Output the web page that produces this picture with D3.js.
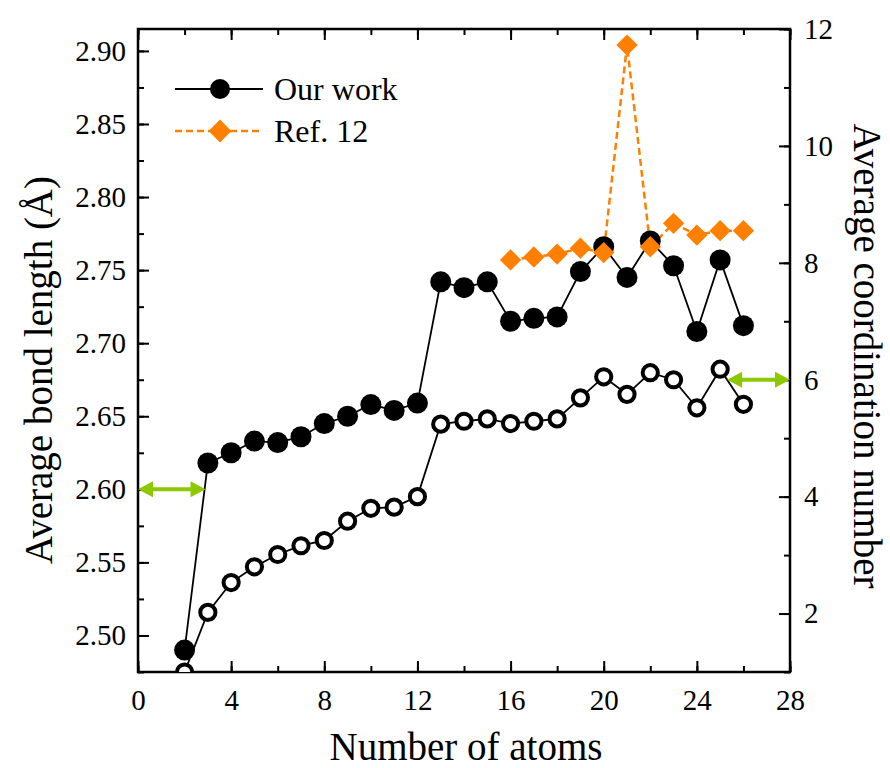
<!DOCTYPE html>
<html>
<head>
<meta charset="utf-8">
<title>Average bond length and coordination number</title>
<script src="https://d3js.org/d3.v7.min.js"></script>
<style>
  body { margin: 0; background: #fff; }
  svg text { font-family: "Liberation Serif", "Times New Roman", serif !important; fill: #000; }
</style>
</head>
<body>
<svg width="890" height="768"></svg>
<script>
// data
var atoms = [2, 3, 4, 5, 6, 7, 8, 9, 10, 11, 12, 13, 14, 15, 16, 17, 18, 19, 20, 21, 22, 23, 24, 25, 26];
var bondLen = [2.490, 2.618, 2.625, 2.633, 2.632, 2.636, 2.645, 2.650, 2.658, 2.654, 2.659, 2.742, 2.738, 2.742,
               2.715, 2.717, 2.718, 2.749, 2.766, 2.745, 2.770, 2.753, 2.708, 2.757, 2.712];
var coordNum = [1.00, 2.02, 2.53, 2.80, 3.01, 3.16, 3.25, 3.58, 3.80, 3.82, 4.00, 5.24, 5.29, 5.33,
                5.25, 5.29, 5.33, 5.69, 6.05, 5.75, 6.12, 6.00, 5.52, 6.18, 5.58];
var refAtoms = [16, 17, 18, 19, 20, 21, 22, 23, 24, 25, 26];
var refBond = [2.757, 2.759, 2.761, 2.765, 2.762, 2.904, 2.766, 2.782, 2.774, 2.777, 2.777];

var xTicks = [0, 4, 8, 12, 16, 20, 24, 28];
var leftTicks = [2.50, 2.55, 2.60, 2.65, 2.70, 2.75, 2.80, 2.85, 2.90];
var rightTicks = [2, 4, 6, 8, 10, 12];

var margin = {top: 29, right: 100, bottom: 96, left: 138},
    width = 890 - margin.left - margin.right,
    height = 768 - margin.top - margin.bottom;

var orange = "#ff8000", green = "#8dc800";
var serif = "'Liberation Serif', 'Times New Roman', serif";

var svg = d3.select("svg");
var g = svg.append("g").attr("transform", "translate(" + margin.left + "," + margin.top + ")");

var x = d3.scaleLinear().domain([0, 28]).range([0, width]);
var yL = d3.scaleLinear().domain([2.475, 2.915]).range([height, 0]);
var yR = d3.scaleLinear().domain([1, 12]).range([height, 0]);

g.append("clipPath").attr("id", "plotclip")
  .append("rect").attr("width", width).attr("height", height);

// axes, ticks pointing inwards
function styleAxis(sel) {
  sel.attr("font-family", serif).attr("font-size", 29);
  sel.select(".domain").remove();
  sel.selectAll("line").attr("stroke", "#000").attr("stroke-width", 2);
  sel.selectAll("text").attr("font-family", serif).style("font-size", "29px");
}
var minorX = d3.range(0, 29, 2), minorL = d3.range(2.475, 2.92, 0.025), minorR = d3.range(1, 12.5, 1);

g.append("g").attr("transform", "translate(0," + height + ")")
  .call(d3.axisBottom(x).tickValues(minorX).tickSize(-6).tickFormat(""))
  .call(styleAxis);
g.append("g").attr("transform", "translate(0," + height + ")")
  .call(d3.axisBottom(x).tickValues(xTicks).tickSize(-11).tickPadding(17).tickFormat(d3.format("d")))
  .call(styleAxis);
g.append("g")
  .call(d3.axisTop(x).tickValues(minorX).tickSize(-6).tickFormat(""))
  .call(styleAxis);
g.append("g")
  .call(d3.axisTop(x).tickValues(xTicks).tickSize(-11).tickFormat(""))
  .call(styleAxis);

g.append("g")
  .call(d3.axisLeft(yL).tickValues(minorL).tickSize(-6).tickFormat(""))
  .call(styleAxis);
g.append("g")
  .call(d3.axisLeft(yL).tickValues(leftTicks).tickSize(-11).tickPadding(12).tickFormat(d3.format(".2f")))
  .call(styleAxis);

g.append("g").attr("transform", "translate(" + width + ",0)")
  .call(d3.axisRight(yR).tickValues(minorR).tickSize(-6).tickFormat(""))
  .call(styleAxis);
g.append("g").attr("transform", "translate(" + width + ",0)")
  .call(d3.axisRight(yR).tickValues(rightTicks).tickSize(-11).tickPadding(14).tickFormat(d3.format("d")))
  .call(styleAxis);

// frame
g.append("rect").attr("width", width).attr("height", height)
  .attr("fill", "none").attr("stroke", "#000").attr("stroke-width", 2.5);

// axis titles
svg.append("text").attr("x", margin.left + width / 2 + 2).attr("y", 760)
  .attr("text-anchor", "middle").attr("font-family", serif).style("font-size", "39px").text("Number of atoms");
svg.append("text").attr("transform", "translate(52,370) rotate(-90)")
  .attr("text-anchor", "middle").attr("font-family", serif).style("font-size", "39px").text("Average bond length (Å)");
svg.append("text").attr("transform", "translate(854,356) rotate(90)")
  .attr("text-anchor", "middle").attr("font-family", serif).style("font-size", "39px").text("Average coordination number");

var plot = g.append("g").attr("clip-path", "url(#plotclip)");

// open circles: coordination number (right axis)
plot.append("path").datum(atoms)
  .attr("fill", "none").attr("stroke", "#000").attr("stroke-width", 1.8)
  .attr("d", d3.line().x(function(d) { return x(d); }).y(function(d, i) { return yR(coordNum[i]); }));
plot.append("g").selectAll("circle").data(atoms).enter().append("circle")
  .attr("cx", function(d) { return x(d); })
  .attr("cy", function(d, i) { return yR(coordNum[i]); })
  .attr("r", 7.6).attr("fill", "#fff").attr("stroke", "#000").attr("stroke-width", 4);

// Ref. 12 (orange dashed, diamonds)
plot.append("path").datum(refAtoms)
  .attr("fill", "none").attr("stroke", orange).attr("stroke-width", 2.5).attr("stroke-dasharray", "7,4")
  .attr("d", d3.line().x(function(d) { return x(d); }).y(function(d, i) { return yL(refBond[i]); }));

// filled circles: bond length (left axis)
plot.append("path").datum(atoms)
  .attr("fill", "none").attr("stroke", "#000").attr("stroke-width", 1.8)
  .attr("d", d3.line().x(function(d) { return x(d); }).y(function(d, i) { return yL(bondLen[i]); }));
plot.append("g").selectAll("circle").data(atoms).enter().append("circle")
  .attr("cx", function(d) { return x(d); })
  .attr("cy", function(d, i) { return yL(bondLen[i]); })
  .attr("r", 10.5).attr("fill", "#000");

var diamond = d3.symbol().type(d3.symbolDiamond2).size(290);
plot.append("g").selectAll("path").data(refAtoms).enter().append("path")
  .attr("d", diamond)
  .attr("transform", function(d, i) { return "translate(" + x(d) + "," + yL(refBond[i]) + ")"; })
  .attr("fill", orange);

// green double arrows
function dblArrow(x0, x1, y) {
  var h = 15, w = 8;
  g.append("line").attr("x1", x0 + h - 2).attr("x2", x1 - h + 2).attr("y1", y).attr("y2", y)
    .attr("stroke", green).attr("stroke-width", 4);
  g.append("path").attr("fill", green)
    .attr("d", "M" + x0 + "," + y + "L" + (x0 + h) + "," + (y - w) + "L" + (x0 + h) + "," + (y + w) + "Z"
             + "M" + x1 + "," + y + "L" + (x1 - h) + "," + (y - w) + "L" + (x1 - h) + "," + (y + w) + "Z");
}
dblArrow(x(0), x(2.9), yL(2.60));
dblArrow(x(25.3), x(28), yR(6));

// legend
var leg = g.append("g").attr("transform", "translate(37,60)");
leg.append("line").attr("x1", 0).attr("x2", 88).attr("y1", 0).attr("y2", 0)
  .attr("stroke", "#000").attr("stroke-width", 1.8);
leg.append("circle").attr("cx", 45).attr("cy", 0).attr("r", 10).attr("fill", "#000");
leg.append("text").attr("x", 99).attr("y", 11).attr("font-family", serif).style("font-size", "32px").text("Our work");
leg.append("line").attr("x1", 0).attr("x2", 88).attr("y1", 42).attr("y2", 42)
  .attr("stroke", orange).attr("stroke-width", 2.5).attr("stroke-dasharray", "7,4");
leg.append("path").attr("d", d3.symbol().type(d3.symbolDiamond2).size(330)).attr("transform", "translate(45,42)").attr("fill", orange);
leg.append("text").attr("x", 99).attr("y", 53).attr("font-family", serif).style("font-size", "32px").text("Ref. 12");
</script>
</body>
</html>
